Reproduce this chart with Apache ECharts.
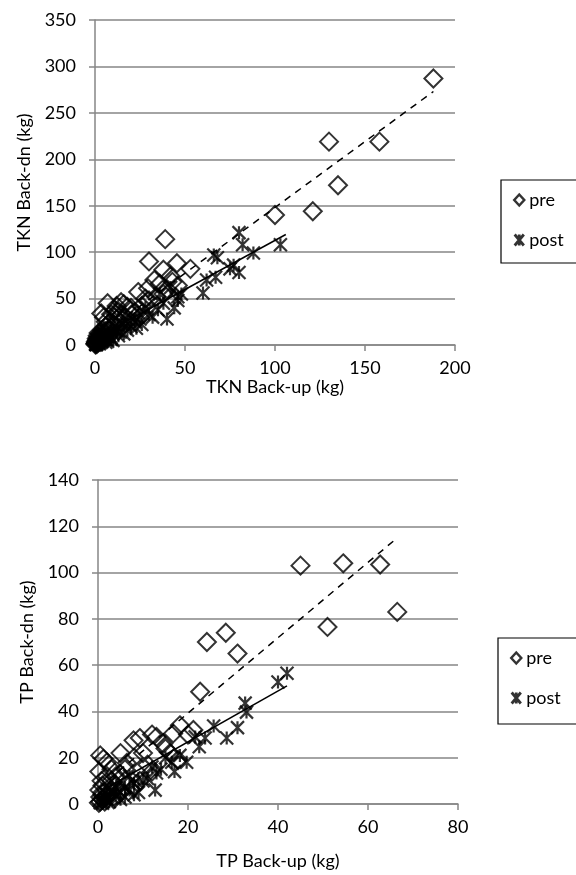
<!DOCTYPE html>
<html><head><meta charset="utf-8">
<script src="https://cdn.jsdelivr.net/npm/echarts@6/dist/echarts.min.js"></script>
<style>html,body{margin:0;padding:0;background:#fff}#c{width:576px;height:875px}</style>
</head><body><div id="c"></div>
<script>
// Chart 1: TKN (kg)
const tknXTicks = [0, 50, 100, 150, 200];
const tknYTicks = [0, 50, 100, 150, 200, 250, 300, 350];
const tknPre = [[188,287],[158,219],[130,219],[135,172],[121,144],[100,140],[53,82],[45.5,88],[39,114],[30,90],[38,81],[42,74],[33,70],[46,64],[36,66],[40,60],[29.5,61],[24,57],[34,52],[30,48],[18,41],[14.5,46],[11,38],[7,45],[3.5,34],[5,30],[9,33],[13,36],[16,44],[20,40],[22,35],[26,42],[17,30],[12,28],[8,24],[6,20],[10,22],[4,16],[3,12],[2,8],[1,5],[0.5,2],[1.5,10],[5,8],[7,14],[2,3],[3,6],[1,1],[14,25],[25,30],[28,50],[38,55],[43,68],[20,25],[0.3,0.5],[0.8,2.5],[1.2,4],[2.5,5],[3.5,9],[4.5,11],[6,12],[8,16],[9,19],[2,13],[1,7],[0.5,3.5],[6,25],[11,30],[15,33],[12,42],[4,6],[5.5,15],[0.2,1.5],[1.8,6.5],[3,3.5]];
const tknPost = [[103,108],[80,121],[82,108],[88,99],[77,86],[80,78],[75,82],[66,97],[68,94],[67,73],[62,70],[60,56],[46,52],[46,48],[48,55],[40,28],[38,45],[35,38],[42,62],[36,55],[30,33],[28,40],[25,28],[22,25],[20,20],[18,16],[15,22],[12,15],[10,12],[8,10],[6,6],[5,8],[4,4],[3,5],[2,2],[1,1],[0.5,0.5],[1.5,3],[7,4],[9,6],[13,10],[16,12],[24,35],[32,30],[26,22],[11,18],[17,25],[44,40],[0.3,1],[1,2.5],[2.5,1.5],[3.5,3],[4.5,6],[6,3],[7,9],[9,8],[10,5],[14,14],[19,22],[23,18],[0.8,0.2],[2,4]];
const tknPreTrend = [[0.5,7],[188,273]];
const tknPostTrend = [[0.3,7.3],[106,119]];

// Chart 2: TP (kg)
const tpXTicks = [0, 20, 40, 60, 80];
const tpYTicks = [0, 20, 40, 60, 80, 100, 120, 140];
const tpPre = [[66.5,83],[62.7,103.5],[54.5,104],[45,103],[51,76.5],[28.4,74],[24.2,70],[31,65],[22.7,48.5],[18.2,34],[16.7,30.5],[21.2,32],[13,29],[14.5,26],[9.3,28.5],[7.9,27.5],[0.5,21],[1.2,19.5],[2,18],[0.3,14],[17.8,19],[10,22],[6.4,17.7],[7.9,7],[9.3,10],[4.9,13],[12,30],[20,30],[16,22],[5,22],[3,15],[2,12],[6,10],[4,8],[3,5],[1,2],[0.5,1],[2,4],[8,20],[11,17],[15,24],[1,8],[0.2,0.5],[3,10],[5,5],[12,14],[0.5,3],[1,5],[1.5,1],[2.5,7],[0.8,10],[4,12],[6,15],[3.5,2],[0.3,6],[1.8,3]];
const tpPost = [[42,56.5],[40,52.7],[32.7,43.6],[33,39.7],[31,33],[28.6,28.5],[25.7,33.7],[21.6,29],[22.5,24.7],[23.8,28.5],[19.7,18],[18.2,21],[16.4,18],[12.7,6],[13,13.4],[12,16],[14,15],[10,10],[11,11],[9,11],[8,9],[7,12],[6,7],[5,5],[4,4],[3,3],[3,6],[2,2],[2,4],[1,1],[0.5,0.5],[1.5,2.5],[15,20],[17,14],[9,5],[6,3],[4,7],[0.3,1.5],[1,0.3],[2.5,1],[3.5,4.5],[5,2],[7,6],[8,4]];
const tpPreTrend = [[0.2,7],[66.5,115]];
const tpPostTrend = [[0.5,5.4],[42,51]];

const xNames = ['TKN Back-up (kg)', 'TP Back-up (kg)'];
const yNames = ['TKN Back-dn (kg)', 'TP Back-dn (kg)'];
const seriesNames = ['pre', 'post'];

const FONT = 'Lato, "Open Sans", sans-serif';
const GRAY = '#868686';
const STAR = 'path://M0,0L10,12M10,0L0,12M5,0L5,12';

function xAxis(idx, ticks, gap) {
  return {
    type: 'value', gridIndex: idx,
    min: ticks[0], max: ticks[ticks.length - 1], interval: ticks[1] - ticks[0],
    name: xNames[idx], nameLocation: 'middle', nameGap: gap,
    nameTextStyle: { fontFamily: FONT, fontSize: 18, color: '#000' },
    axisLine: { show: true, lineStyle: { color: GRAY, width: 1.5 } },
    axisTick: { show: true, inside: false, length: 6, lineStyle: { color: GRAY, width: 1.5 } },
    axisLabel: { fontFamily: FONT, fontSize: 18, color: '#000', margin: 14 },
    splitLine: { show: false }
  };
}
function yAxis(idx, ticks, gap) {
  return {
    type: 'value', gridIndex: idx,
    min: ticks[0], max: ticks[ticks.length - 1], interval: ticks[1] - ticks[0],
    name: yNames[idx], nameLocation: 'middle', nameGap: gap, nameRotate: 90,
    nameTextStyle: { fontFamily: FONT, fontSize: 18, color: '#000' },
    axisLine: { show: true, lineStyle: { color: GRAY, width: 1.5 } },
    axisTick: { show: true, inside: false, length: 6, lineStyle: { color: GRAY, width: 1.5 } },
    axisLabel: { fontFamily: FONT, fontSize: 18, color: '#000', margin: 19 },
    splitLine: { show: true, lineStyle: { color: GRAY, width: 1.5 } }
  };
}
function scatterPre(idx, data) {
  return { name: seriesNames[0], type: 'scatter', xAxisIndex: idx, yAxisIndex: idx, data: data,
    symbol: 'diamond', symbolSize: 18,
    itemStyle: { color: 'rgba(0,0,0,0)', borderColor: '#000', borderWidth: 2 }, z: 3 };
}
function scatterPost(idx, data) {
  return { name: seriesNames[1], type: 'scatter', xAxisIndex: idx, yAxisIndex: idx, data: data,
    symbol: STAR, symbolSize: 13,
    itemStyle: { color: 'rgba(0,0,0,0)', borderColor: '#000', borderWidth: 2.2 }, z: 3 };
}
function trend(idx, data, dashed) {
  return { name: 'trend', type: 'line', xAxisIndex: idx, yAxisIndex: idx, data: data,
    showSymbol: false, symbol: 'none', silent: true,
    lineStyle: { color: '#000', width: 1.5, type: dashed ? [7, 6] : 'solid' }, z: 4 };
}
function legend(left, top, bottomPad) {
  return {
    data: [
      { name: 'pre', icon: 'diamond', itemStyle: { color: 'rgba(0,0,0,0)', borderColor: '#000', borderWidth: 2.5 } },
      { name: 'post', icon: STAR, itemStyle: { color: 'rgba(0,0,0,0)', borderColor: '#000', borderWidth: 2.8 } }
    ],
    orient: 'vertical', left: left, top: top,
    itemWidth: 10, itemHeight: 11, itemGap: 22,
    padding: [11, 30, bottomPad, 12],
    borderColor: '#000', borderWidth: 1.2, borderRadius: 0,
    textStyle: { fontFamily: FONT, fontSize: 18, color: '#000' },
    selectedMode: false
  };
}

const chart = echarts.init(document.getElementById('c'), null, { renderer: 'canvas' });
chart.setOption({
  animation: false,
  backgroundColor: '#fff',
  legend: [legend(501, 180, 14), legend(498, 638, 17)],
  grid: [
    { left: 95, top: 20, width: 360, height: 325 },
    { left: 98, top: 480, width: 360, height: 324 }
  ],
  xAxis: [xAxis(0, tknXTicks, 32), xAxis(1, tpXTicks, 48)],
  yAxis: [yAxis(0, tknYTicks, 62), yAxis(1, tpYTicks, 62)],
  series: [
    scatterPre(0, tknPre), scatterPost(0, tknPost),
    trend(0, tknPreTrend, true), trend(0, tknPostTrend, false),
    scatterPre(1, tpPre), scatterPost(1, tpPost),
    trend(1, tpPreTrend, true), trend(1, tpPostTrend, false)
  ]
});
</script>
</body></html>
